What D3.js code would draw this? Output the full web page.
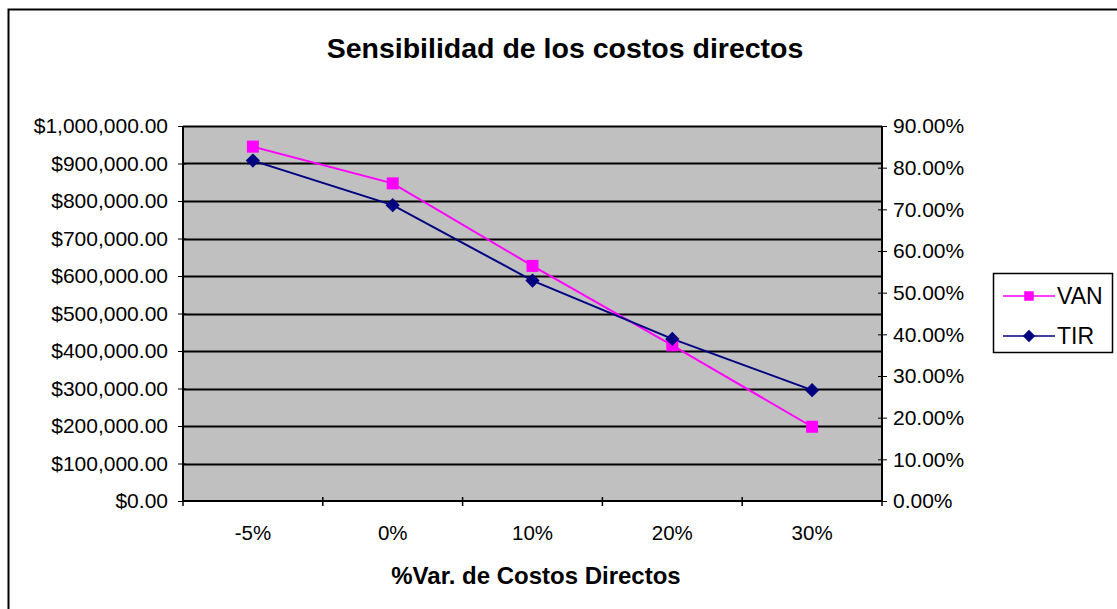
<!DOCTYPE html>
<html>
<head>
<meta charset="utf-8">
<script src="https://cdn.jsdelivr.net/npm/d3@7"></script>
<style>
  body { margin: 0; background: #fff; }
  svg { display: block; font-family: "Liberation Sans", Arial, sans-serif; }
  .axis path, .axis line { stroke: #000; }
  .axis text { fill: #000; font-size: 21px; }
  .axis.x text { font-size: 20.5px; }
</style>
</head>
<body>
<svg id="chart" width="1117" height="609"></svg>
<script>
// data
var categories = ["-5%", "0%", "10%", "20%", "30%"];
var vanValues = [945000, 847000, 627000, 415000, 198000];
var tirValues = [0.817, 0.710, 0.529, 0.389, 0.266];
var leftTicks = [0, 100000, 200000, 300000, 400000, 500000, 600000, 700000, 800000, 900000, 1000000];
var rightTicks = [0, 0.1, 0.2, 0.3, 0.4, 0.5, 0.6, 0.7, 0.8, 0.9];

var svg = d3.select("#chart"),
    margin = {top: 126, right: 235, bottom: 108, left: 183},
    width = +svg.attr("width") - margin.left - margin.right,
    height = +svg.attr("height") - margin.top - margin.bottom;

// outer chart border (runs off the right and bottom of the picture)
svg.append("rect")
    .attr("x", 8.5).attr("y", 9.5)
    .attr("width", 1120).attr("height", 620)
    .attr("fill", "none").attr("stroke", "#000").attr("stroke-width", 2);

svg.append("text")
    .attr("x", 565).attr("y", 58)
    .attr("text-anchor", "middle")
    .style("font-size", "28.5px").style("font-weight", "bold")
    .text("Sensibilidad de los costos directos");

var g = svg.append("g").attr("transform", "translate(" + margin.left + "," + margin.top + ")");

var x = d3.scaleBand().domain(categories).range([0, width]);
var yL = d3.scaleLinear().domain([0, 1000000]).range([height, 0]);
var yR = d3.scaleLinear().domain([0, 0.9]).range([height, 0]);

g.append("rect")
    .attr("width", width).attr("height", height)
    .attr("fill", "#c0c0c0");

// gridlines from the left axis
g.selectAll(".grid")
    .data(leftTicks.slice(1))
    .enter().append("line")
    .attr("class", "grid")
    .attr("x1", 0).attr("x2", width)
    .attr("y1", function(d) { return Math.round(yL(d)) + 0.5; })
    .attr("y2", function(d) { return Math.round(yL(d)) + 0.5; })
    .attr("stroke", "#000").attr("stroke-width", 2);

var fmtMoney = d3.format("$,.2f");
var fmtPct = d3.format(".2%");

g.append("g")
    .attr("class", "axis")
    .call(d3.axisLeft(yL).tickValues(leftTicks).tickFormat(fmtMoney).tickSize(5).tickPadding(10))
    .call(function(s) { s.select(".domain").attr("stroke-width", 2).attr("d", "M0,0V" + height); })
    .selectAll("line").attr("transform", "translate(3,0)").attr("x2", -8);

g.append("g")
    .attr("class", "axis")
    .attr("transform", "translate(" + width + ",0)")
    .call(d3.axisRight(yR).tickValues(rightTicks).tickFormat(fmtPct).tickSize(5).tickPadding(6))
    .call(function(s) { s.select(".domain").attr("stroke-width", 2).attr("d", "M0,0V" + height); })
    .selectAll("line").attr("transform", "translate(-4,0)").attr("x2", 9);

var xAxis = g.append("g")
    .attr("class", "axis x")
    .attr("transform", "translate(0," + height + ")")
    .call(d3.axisBottom(x).tickSize(0).tickPadding(24));
xAxis.select(".domain").attr("stroke-width", 2).attr("d", "M0,0H" + width);
// tick marks between the categories
xAxis.selectAll(".sep")
    .data(d3.range(categories.length + 1))
    .enter().append("line")
    .attr("class", "sep")
    .attr("x1", function(i) { return i * x.step(); })
    .attr("x2", function(i) { return i * x.step(); })
    .attr("y1", -4).attr("y2", 5)
    .attr("stroke", "#000").attr("stroke-width", 1.5);

svg.append("text")
    .attr("x", 536).attr("y", 584)
    .attr("text-anchor", "middle")
    .style("font-size", "24px").style("font-weight", "bold")
    .text("%Var. de Costos Directos");

var cx = function(d, i) { return x(categories[i]) + x.bandwidth() / 2; };

// VAN series
g.append("path")
    .datum(vanValues)
    .attr("fill", "none").attr("stroke", "#ff00ff").attr("stroke-width", 2)
    .attr("d", d3.line().x(cx).y(function(d) { return yL(d); }));
// TIR series
g.append("path")
    .datum(tirValues)
    .attr("fill", "none").attr("stroke", "#000080").attr("stroke-width", 2)
    .attr("d", d3.line().x(cx).y(function(d) { return yR(d); }));

g.selectAll(".van")
    .data(vanValues)
    .enter().append("rect")
    .attr("class", "van")
    .attr("x", function(d, i) { return cx(d, i) - 6; })
    .attr("y", function(d) { return yL(d) - 6; })
    .attr("width", 12).attr("height", 12)
    .attr("fill", "#ff00ff");

var diamond = d3.symbol().type(d3.symbolDiamond2).size(130);
g.selectAll(".tir")
    .data(tirValues)
    .enter().append("path")
    .attr("class", "tir")
    .attr("transform", function(d, i) { return "translate(" + cx(d, i) + "," + yR(d) + ")"; })
    .attr("d", diamond)
    .attr("fill", "#000080");

// legend
var legend = svg.append("g").attr("transform", "translate(993,273)");
legend.append("rect")
    .attr("x", 0.5).attr("y", 0.5).attr("width", 119).attr("height", 79)
    .attr("fill", "#fff").attr("stroke", "#000").attr("stroke-width", 1.5);

var items = [
  {name: "VAN", color: "#ff00ff", type: "square"},
  {name: "TIR", color: "#000080", type: "diamond"}
];
var li = legend.selectAll(".item")
    .data(items)
    .enter().append("g")
    .attr("class", "item")
    .attr("transform", function(d, i) { return "translate(0," + (23 + i * 40) + ")"; });
li.append("line")
    .attr("x1", 10).attr("x2", 62)
    .attr("stroke", function(d) { return d.color; }).attr("stroke-width", 1.5);
li.append("path")
    .attr("transform", "translate(36,0)")
    .attr("d", function(d) {
      return d.type === "square"
        ? d3.symbol().type(d3.symbolSquare).size(90)()
        : d3.symbol().type(d3.symbolDiamond2).size(100)();
    })
    .attr("fill", function(d) { return d.color; });
li.append("text")
    .attr("x", 64).attr("dy", "0.35em")
    .style("font-size", "23px")
    .text(function(d) { return d.name; });
</script>
</body>
</html>
